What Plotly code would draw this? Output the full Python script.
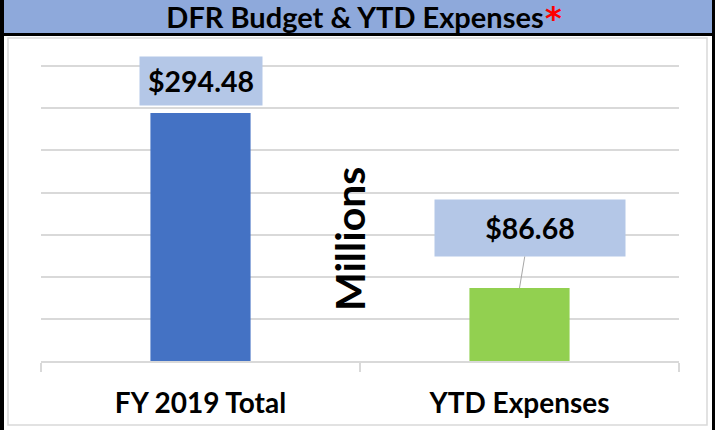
import plotly.graph_objects as go

categories = ["FY 2019 Total", "YTD Expenses"]
values = [294.48, 86.68]
bar_colors = ["#4472C4", "#92D050"]
labels = ["$%.2f" % v for v in values]

W, H = 715, 430
L, R, T, B = 41, 36, 62, 69
FONT = "Lato"


# pixel -> paper helpers for the frame decorations
def fx(px):
    return (px - L) / (W - L - R)


def fy(py):
    return (H - B - py) / (H - T - B)


fig = go.Figure(go.Bar(x=categories, y=values, marker_color=bar_colors,
                       marker_line_width=0))

fig.update_xaxes(showline=True, linecolor="#D9D9D9", linewidth=1.5,
                 ticks="outside", tickson="boundaries", ticklen=9,
                 tickcolor="#D9D9D9", tickwidth=1.5, showgrid=False,
                 automargin=False, ticklabelstandoff=17,
                 tickfont=dict(family=FONT, size=28, color="black", weight="bold"))
fig.update_yaxes(range=[0, 355], dtick=50, showticklabels=False, automargin=False,
                 gridcolor="#D9D9D9", gridwidth=1.5, zeroline=False)

shapes = [
    # header band
    dict(type="rect", x0=fx(4), x1=fx(712), y0=fy(0), y1=fy(34),
         fillcolor="#8EA9DB", line_width=0),
    dict(type="line", x0=fx(0), x1=fx(715), y0=fy(34.5), y1=fy(34.5),
         line=dict(color="black", width=3)),
    # outer black borders
    dict(type="rect", x0=fx(0), x1=fx(4), y0=fy(0), y1=fy(430),
         fillcolor="black", line_width=0),
    dict(type="rect", x0=fx(712), x1=fx(715), y0=fy(0), y1=fy(430),
         fillcolor="black", line_width=0),
    # inner chart frame
    dict(type="rect", x0=fx(8), x1=fx(707), y0=fy(38), y1=fy(425),
         line=dict(color="#D9D9D9", width=1.5)),
]
for s in shapes:
    s.update(xref="paper", yref="paper", layer="below")
shapes[1]["layer"] = "above"

fig.update_layout(
    width=W, height=H,
    margin=dict(l=L, r=R, t=T, b=B),
    paper_bgcolor="white", plot_bgcolor="white",
    bargap=0.686,
    showlegend=False,
    shapes=shapes,
    title=dict(text="DFR Budget & YTD Expenses",
               x=355 / W, xanchor="center", y=1 - 18 / H, yanchor="middle",
               font=dict(family=FONT, size=29, color="black", weight="bold")),
)

# red asterisk after the title
fig.add_annotation(x=fx(553), y=fy(-3), xref="paper", yref="paper", text="*",
                   showarrow=False, xanchor="center", yanchor="top",
                   font=dict(family="DejaVu Sans", size=32, color="#FF0000",
                             weight="bold"))

# value labels
fig.add_annotation(x=categories[0], y=values[0], text=labels[0], showarrow=False,
                   yanchor="bottom", yshift=7, bgcolor="#B4C7E7", width=122, height=48,
                   borderpad=0, font=dict(family=FONT, size=28.5, color="black", weight="bold"))
fig.add_annotation(x=categories[1], y=values[1], text=labels[1], showarrow=True,
                   arrowhead=0, arrowcolor="#A6A6A6", arrowwidth=1, ax=10, ay=-60,
                   bgcolor="#B4C7E7", width=190, height=56, borderpad=0,
                   font=dict(family=FONT, size=28.5, color="black", weight="bold"))

# display-units label
fig.add_annotation(x=fx(349), y=fy(239), xref="paper", yref="paper", text="Millions",
                   showarrow=False, textangle=-90,
                   font=dict(family=FONT, size=41, color="black", weight="bold"))

fig.write_html("out.html", config={"displayModeBar": False},
               post_script="document.body.style.margin='0';")
